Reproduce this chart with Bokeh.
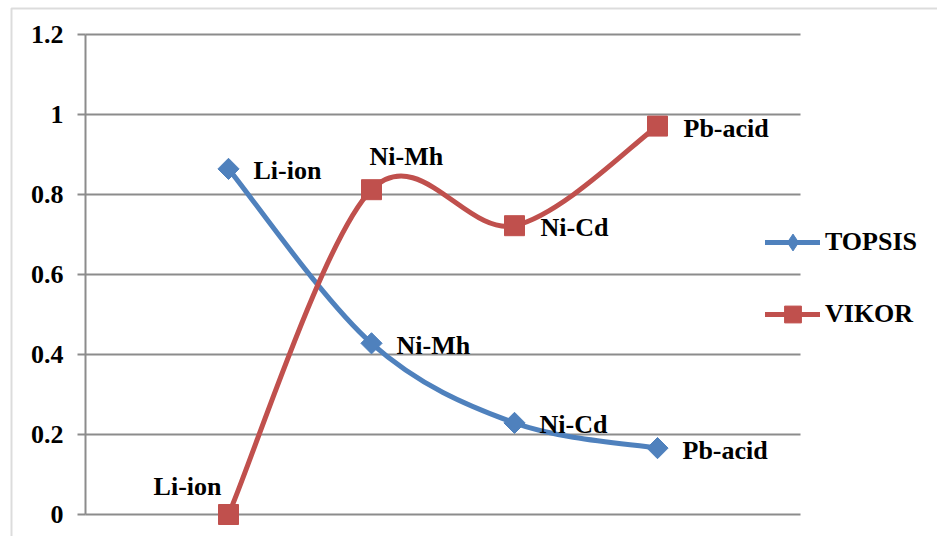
import numpy as np
from bokeh.plotting import figure
from bokeh.models import (Range1d, FixedTicker, NumeralTickFormatter, Legend,
                          LegendItem, BoxAnnotation, ColumnDataSource, LinearAxis)
from bokeh.core.properties import value
from bokeh.embed import file_html
from bokeh.resources import INLINE

# ---- data ----
categories = ["Li-ion", "Ni-Mh", "Ni-Cd", "Pb-acid"]
x_pos = [1, 2, 3, 4]
topsis = [0.864, 0.428, 0.229, 0.166]
vikor = [0.0, 0.812, 0.722, 0.971]
y_ticks = [0, 0.2, 0.4, 0.6, 0.8, 1.0, 1.2]

# ---- styles ----
BLUE = "#4F81BD"
RED = "#C0504D"
GRID = "#8c8c8c"
FONT = value("Liberation Serif")
FSIZE = "26px"
W, H = 937, 536
LEFT_PX, BASE_PX = 85, 514          # plot-area origin on the page
PX_X, PX_Y = 143.0, 400.0           # pixels per category / per unit
CAT_EXTENT = (0, 5)                 # plot-area width in category slots

p = figure(width=W, height=H, output_backend="svg", toolbar_location=None,
           x_range=Range1d(-LEFT_PX / PX_X, (W - LEFT_PX) / PX_X),
           y_range=Range1d(-(H - BASE_PX) / PX_Y, BASE_PX / PX_Y),
           x_axis_location=None, y_axis_location=None,
           min_border=0)
p.outline_line_color = None
p.background_fill_color = "white"
p.border_fill_color = "white"
p.xgrid.grid_line_color = None
p.ygrid.grid_line_color = None

yax = LinearAxis(fixed_location=0, bounds=(0, 1.2))
yax.ticker = FixedTicker(ticks=y_ticks)
yax.formatter = NumeralTickFormatter(format="0.[0]")
yax.axis_line_color = GRID
yax.axis_line_width = 2
yax.major_tick_line_color = GRID
yax.major_tick_line_width = 2
yax.major_tick_out = 8
yax.major_tick_in = 0
yax.minor_tick_line_color = None
yax.major_label_standoff = 14
yax.major_label_text_font = "Liberation Serif"
yax.major_label_text_font_style = "bold"
yax.major_label_text_font_size = FSIZE
yax.major_label_text_color = "black"
p.add_layout(yax, "left")

# horizontal gridlines at the tick values, across the plot area
p.segment(x0=CAT_EXTENT[0], y0=y_ticks, x1=CAT_EXTENT[1], y1=y_ticks,
          line_color=GRID, line_width=2)


def smooth_segments(xs, ys):
    # Excel-like smoothed line: cubic Bezier control points from neighbours
    n = len(xs)
    px, py = list(xs), list(ys)
    out = {k: [] for k in ["x0", "y0", "x1", "y1", "cx0", "cy0", "cx1", "cy1"]}
    for i in range(n - 1):
        ia = max(i - 1, 0)
        ib = min(i + 2, n - 1)
        out["x0"].append(px[i]); out["y0"].append(py[i])
        out["x1"].append(px[i + 1]); out["y1"].append(py[i + 1])
        out["cx0"].append(px[i] + (px[i + 1] - px[ia]) / 6.0)
        out["cy0"].append(py[i] + (py[i + 1] - py[ia]) / 6.0)
        out["cx1"].append(px[i + 1] - (px[ib] - px[i]) / 6.0)
        out["cy1"].append(py[i + 1] - (py[ib] - py[i]) / 6.0)
    return out


renderers = {}

# TOPSIS: smoothed line + diamonds
seg_t = ColumnDataSource(smooth_segments(x_pos, topsis))
bt = p.bezier(x0="x0", y0="y0", x1="x1", y1="y1", cx0="cx0", cy0="cy0",
              cx1="cx1", cy1="cy1", source=seg_t, line_color=BLUE,
              line_width=5, line_cap="round")
dt = p.scatter(x_pos, topsis, marker="diamond", size=15,
               fill_color=BLUE, line_color=BLUE)
p.scatter(x_pos, topsis, marker="square", size=15, angle=np.pi / 4,
          fill_color=BLUE, line_color=BLUE)
renderers["TOPSIS"] = [bt, dt]

# VIKOR: smoothed line + squares
seg_v = ColumnDataSource(smooth_segments(x_pos, vikor))
bv = p.bezier(x0="x0", y0="y0", x1="x1", y1="y1", cx0="cx0", cy0="cy0",
              cx1="cx1", cy1="cy1", source=seg_v, line_color=RED,
              line_width=5, line_cap="round")
sv = p.scatter(x_pos, vikor, marker="square", size=20,
               fill_color=RED, line_color=RED)
renderers["VIKOR"] = [bv, sv]

# data labels
lab_src_t = ColumnDataSource(dict(x=x_pos, y=topsis, t=categories))
p.text(x="x", y="y", text="t", source=lab_src_t, x_offset=25, y_offset=2,
       text_font=FONT, text_font_style="bold", text_font_size=FSIZE,
       text_baseline="middle", text_align="left", text_color="black")

v_xoff = [-7, -2, 26, 26]
v_yoff = [-28, -33, 2, 2]
v_align = ["right", "left", "left", "left"]
lab_src_v = ColumnDataSource(dict(x=x_pos, y=vikor, t=categories,
                                  xo=v_xoff, yo=v_yoff, al=v_align))
p.text(x="x", y="y", text="t", source=lab_src_v, x_offset="xo", y_offset="yo",
       text_align="al",
       text_font=FONT, text_font_style="bold", text_font_size=FSIZE,
       text_baseline="middle", text_color="black")

# legend: one block per series
for name, gh, cy in [("TOPSIS", 42, 242), ("VIKOR", 42, 314)]:
    lg = Legend(items=[LegendItem(label=name, renderers=renderers[name])],
                location=(765, H - cy - gh / 2), orientation="vertical",
                background_fill_alpha=0, border_line_color=None,
                padding=0, margin=0, spacing=0,
                glyph_width=55, glyph_height=gh, label_height=gh,
                label_standoff=5,
                label_text_font="Liberation Serif", label_text_font_style="bold",
                label_text_font_size=FSIZE, label_text_color="black")
    p.add_layout(lg, "center")

# outer chart border
border = BoxAnnotation(left=(11 - LEFT_PX) / PX_X, right=7, top=(BASE_PX - 8) / PX_Y,
                       bottom=-0.5, fill_alpha=0, line_color=GRID, line_width=2)
p.add_layout(border)

open("out.html", "w").write(file_html(p, INLINE))
